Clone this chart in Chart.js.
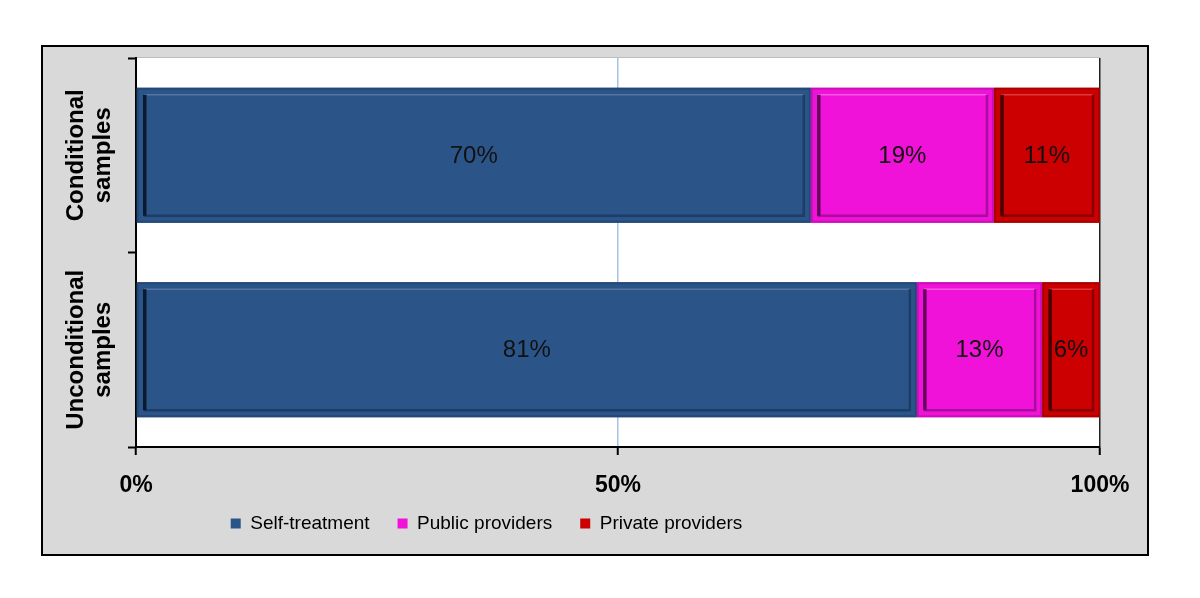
<!DOCTYPE html>
<html>
<head>
<meta charset="utf-8">
<script src="https://cdn.jsdelivr.net/npm/chart.js@4"></script>
<style>
  body { margin: 0; background: #fff; }
  #box {
    position: absolute; left: 41px; top: 45px;
    width: 1104px; height: 507px;
    border: 2px solid #000; background: #d9d9d9;
  }
  canvas { display: block; }
</style>
</head>
<body>
<div id="box"><canvas id="chart" width="1104" height="507"></canvas></div>
<script>
const categories = [["Conditional", "samples"], ["Unconditional", "samples"]];
const seriesNames = ["Self-treatment", "Public providers", "Private providers"];
const selfTreatment = [70, 81];
const publicProviders = [19, 13];
const privateProviders = [11, 6];
const xTicks = [0, 50, 100];

const FONT = "Arial, 'Liberation Sans', sans-serif";

// fill, outer edge, inner frame, dark left line
const shades = [
  { base: "#2b5589", edge: "#234878", inner: "#1c3d68", light: "#5674a0", dark: "#0c1a30" },
  { base: "#f012d8", edge: "#c90fb6", inner: "#a80e9b", light: "#f25ae2", dark: "#62085a" },
  { base: "#cc0000", edge: "#a80000", inner: "#850000", light: "#dd3a3a", dark: "#440000" }
];

const plotBack = {
  id: "plotBack",
  beforeDraw(chart) {
    const { ctx, chartArea: a } = chart;
    ctx.save();
    ctx.fillStyle = "#fff";
    ctx.fillRect(a.left, a.top, a.right - a.left, a.bottom - a.top);
    ctx.strokeStyle = "#bdbdbd";
    ctx.lineWidth = 1;
    ctx.beginPath();
    ctx.moveTo(a.left, a.top - 0.5);
    ctx.lineTo(a.right, a.top - 0.5);
    ctx.stroke();
    ctx.restore();
  }
};

// bevelled look + value labels
const barDeco = {
  id: "barDeco",
  afterDatasetsDraw(chart) {
    const ctx = chart.ctx;
    ctx.save();
    chart.data.datasets.forEach((ds, di) => {
      const c = shades[di];
      chart.getDatasetMeta(di).data.forEach((el, i) => {
        const p = el.getProps(["x", "y", "base", "height"], true);
        const l = Math.min(p.x, p.base), r = Math.max(p.x, p.base);
        const t = p.y - p.height / 2, b = p.y + p.height / 2;
        ctx.lineWidth = 2;
        ctx.strokeStyle = c.edge;
        ctx.strokeRect(l + 1, t + 1, r - l - 2, b - t - 2);
        const k = 7;
        ctx.strokeStyle = c.light;
        ctx.lineWidth = 1.5;
        ctx.beginPath();
        ctx.moveTo(l + k, t + k);
        ctx.lineTo(r - k, t + k);
        ctx.stroke();
        ctx.strokeStyle = c.inner;
        ctx.lineWidth = 2.5;
        ctx.beginPath();
        ctx.moveTo(r - k, t + k);
        ctx.lineTo(r - k, b - k);
        ctx.lineTo(l + k, b - k);
        ctx.stroke();
        ctx.strokeStyle = c.dark;
        ctx.lineWidth = 3.5;
        ctx.beginPath();
        ctx.moveTo(l + k + 1, t + k);
        ctx.lineTo(l + k + 1, b - k);
        ctx.stroke();

        ctx.fillStyle = "#111";
        ctx.font = "24px " + FONT;
        ctx.textAlign = "center";
        ctx.textBaseline = "middle";
        ctx.fillText(ds.data[i] + "%", (l + r) / 2, p.y + 1);
      });
    });
    ctx.restore();
  }
};

// rotated category labels on the left
const catLabels = {
  id: "catLabels",
  afterDraw(chart) {
    const ctx = chart.ctx;
    const y = chart.scales.y;
    ctx.save();
    ctx.fillStyle = "#000";
    ctx.font = "bold 24px " + FONT;
    ctx.textAlign = "center";
    ctx.textBaseline = "middle";
    categories.forEach((lines, i) => {
      const py = y.getPixelForValue(i);
      lines.forEach((txt, j) => {
        ctx.save();
        ctx.translate(33 + j * 27, py);
        ctx.rotate(-Math.PI / 2);
        ctx.fillText(txt, 0, 0);
        ctx.restore();
      });
    });
    ctx.restore();
  }
};

// legend sits left of centre and a bit higher in the original
const legendShift = {
  id: "legendShift",
  afterLayout(chart) {
    const lg = chart.legend;
    lg.left -= 85;
    lg.right -= 85;
    lg.top -= 11;
    lg.bottom -= 11;
  }
};

const ctx = document.getElementById("chart").getContext("2d");
new Chart(ctx, {
  type: "bar",
  data: {
    labels: categories,
    datasets: [
      { label: seriesNames[0], data: selfTreatment, backgroundColor: shades[0].base },
      { label: seriesNames[1], data: publicProviders, backgroundColor: shades[1].base },
      { label: seriesNames[2], data: privateProviders, backgroundColor: shades[2].base }
    ]
  },
  options: {
    indexAxis: "y",
    responsive: false,
    animation: false,
    borderWidth: 0,
    barPercentage: 1,
    categoryPercentage: 0.694,
    layout: { padding: { top: 11, left: 0, right: 47, bottom: 0 } },
    scales: {
      x: {
        stacked: true,
        min: 0,
        max: 100,
        afterBuildTicks: (s) => { s.ticks = xTicks.map(v => ({ value: v })); },
        afterFit: (s) => { s.height = 50; },
        border: { color: "#000", width: 2 },
        grid: {
          color: (c) => c.tick && c.tick.value === 50 ? "#aac2e2" : (c.tick && c.tick.value === 100 ? "#222" : "rgba(0,0,0,0)"),
          lineWidth: 1.5,
          tickColor: "#000",
          tickLength: 8,
          tickWidth: 2
        },
        ticks: {
          color: "#000",
          font: { family: FONT, size: 23, weight: "bold" },
          padding: 17,
          maxRotation: 0,
          callback: (v) => v + "%"
        }
      },
      y: {
        stacked: true,
        afterFit: (s) => { s.width = 93; },
        border: { color: "#000", width: 2 },
        grid: {
          offset: true,
          drawOnChartArea: false,
          tickColor: "#000",
          tickLength: 8,
          tickWidth: 2
        },
        ticks: { display: false }
      }
    },
    plugins: {
      legend: {
        position: "bottom",
        labels: {
          color: "#000",
          font: { family: FONT, size: 19 },
          boxWidth: 10,
          boxHeight: 10,
          padding: 28
        }
      },
      tooltip: { enabled: false }
    }
  },
  plugins: [plotBack, barDeco, catLabels, legendShift]
});
</script>
</body>
</html>
